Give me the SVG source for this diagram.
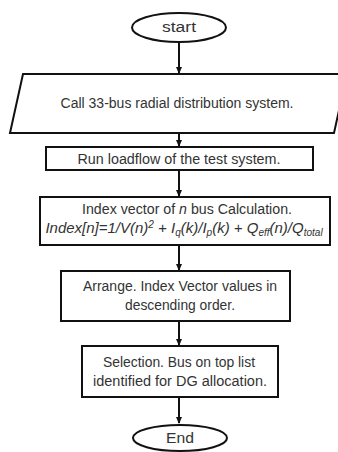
<svg xmlns="http://www.w3.org/2000/svg" width="338" height="452" viewBox="0 0 338 452">
<defs>
<style>
.s{fill:#fff;stroke:#111;stroke-width:2}
.t{font-family:"Liberation Sans",Arial,sans-serif;font-size:14px;fill:#333;text-anchor:middle}
.i{font-style:italic}
.c{stroke:#111;stroke-width:2;fill:none}
</style>
<marker id="a" markerWidth="8" markerHeight="8" refX="6" refY="4" orient="auto" markerUnits="userSpaceOnUse">
<path d="M0,1 L7,4 L0,7 Z" fill="#111"/>
</marker>
</defs>
<rect width="338" height="452" fill="#fff"/>
<g id="connectors">
<line class="c" x1="179" y1="42" x2="179" y2="73" marker-end="url(#a)"/>
<line class="c" x1="179" y1="133" x2="179" y2="146" marker-end="url(#a)"/>
<line class="c" x1="179" y1="170" x2="179" y2="196" marker-end="url(#a)"/>
<line class="c" x1="179" y1="245" x2="179" y2="270" marker-end="url(#a)"/>
<line class="c" x1="179" y1="321" x2="179" y2="345" marker-end="url(#a)"/>
<line class="c" x1="179" y1="397" x2="179" y2="423" marker-end="url(#a)"/>
</g>
<g id="start">
<ellipse class="s" cx="179" cy="27.5" rx="47" ry="14.5"/>
<text class="t" x="179" y="32" textLength="34" lengthAdjust="spacingAndGlyphs">start</text>
</g>
<g id="call">
<polygon class="s" points="23,74 347,74 334,133 10,133"/>
<text class="t" x="177" y="108" textLength="233" lengthAdjust="spacingAndGlyphs">Call 33-bus radial distribution system.</text>
</g>
<g id="loadflow">
<rect class="s" x="46" y="147" width="267" height="23"/>
<text class="t" x="179" y="163.5" textLength="203" lengthAdjust="spacingAndGlyphs">Run loadflow of the test system.</text>
</g>
<g id="index">
<rect class="s" x="40" y="197" width="290" height="48"/>
<text class="t" x="187" y="214" textLength="210" lengthAdjust="spacingAndGlyphs">Index vector of <tspan class="i">n</tspan> bus Calculation.</text>
<text class="t i" x="184" y="233" font-size="15" style="font-size:15px">Index[n]=1/V(n)<tspan font-size="10" style="font-size:10px" dy="-5">2</tspan><tspan dy="5"> + I</tspan><tspan style="font-size:10px" dy="3">q</tspan><tspan dy="-3">(k)/I</tspan><tspan style="font-size:10px" dy="3">p</tspan><tspan dy="-3">(k) + Q</tspan><tspan style="font-size:10px" dy="3">eff</tspan><tspan dy="-3">(n)/Q</tspan><tspan style="font-size:10px" dy="3">total</tspan></text>
</g>
<g id="arrange">
<rect class="s" x="61" y="271" width="229" height="50"/>
<text class="t" x="180" y="291" textLength="194" lengthAdjust="spacingAndGlyphs">Arrange. Index Vector values in</text>
<text class="t" x="180" y="310" textLength="110" lengthAdjust="spacingAndGlyphs">descending order.</text>
</g>
<g id="selection">
<rect class="s" x="82" y="346" width="196" height="51"/>
<text class="t" x="179" y="367" textLength="152" lengthAdjust="spacingAndGlyphs">Selection. Bus on top list</text>
<text class="t" x="180" y="386" textLength="174" lengthAdjust="spacingAndGlyphs">identified for DG allocation.</text>
</g>
<g id="end">
<ellipse class="s" cx="180" cy="438" rx="47" ry="13"/>
<text class="t" x="180" y="443" textLength="28" lengthAdjust="spacingAndGlyphs">End</text>
</g>
</svg>
